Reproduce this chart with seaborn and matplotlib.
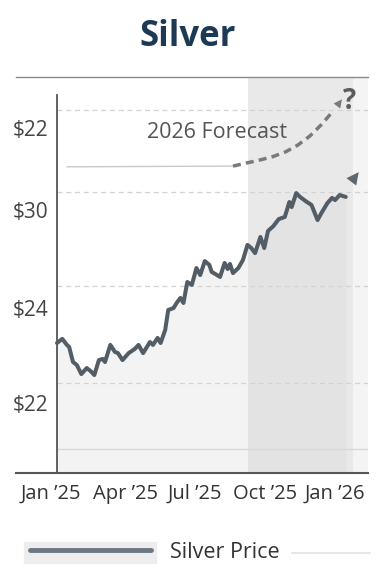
import pandas as pd
import numpy as np
import matplotlib
matplotlib.use("Agg")
import matplotlib.pyplot as plt
import matplotlib.dates as mdates
import matplotlib.transforms as mtransforms
from matplotlib.patches import Rectangle
from matplotlib.lines import Line2D
import seaborn as sns

# silver price (days after 1 Jan 2025, USD)
days = [0, 7, 13, 16, 21, 26, 32, 39, 44, 49, 55, 60, 63, 70, 76, 80, 86, 94,
        102, 107, 113, 122, 126, 132, 136, 142, 146, 153, 157, 162, 166, 171,
        177, 183, 188, 194, 200, 203, 210, 214, 220, 224, 227, 231, 238, 244,
        250, 255, 260, 267, 272, 277, 284, 291, 299, 305, 308, 314, 319, 328,
        334, 342, 347, 355, 361, 365, 371, 379]
prices = [24.49, 24.66, 24.41, 24.32, 23.70, 23.58, 23.20, 23.45, 23.33, 23.16,
          23.78, 23.83, 23.70, 24.41, 24.12, 24.07, 23.78, 24.07, 24.24, 24.41,
          24.07, 24.53, 24.41, 24.70, 24.49, 25.03, 25.86, 25.94, 26.15, 26.36,
          26.15, 27.02, 26.90, 27.60, 27.31, 27.89, 27.73, 27.44, 27.31, 27.23,
          27.81, 27.56, 27.77, 27.39, 27.60, 27.93, 28.56, 28.43, 28.22, 28.89,
          28.43, 29.14, 29.34, 29.63, 29.72, 30.34, 30.13, 30.71, 30.55, 30.34,
          30.22, 29.59, 29.88, 30.30, 30.51, 30.42, 30.63, 30.55]

# forecast path (dashed arrow)
fc_days = [231, 249, 266, 283, 300, 316, 332, 347, 362, 374]
fc_prices = [31.83, 31.96, 32.08, 32.22, 32.42, 32.70, 33.08, 33.55, 34.10, 34.60]

ytick_vals = [22, 25.95, 30, 33.4]
ytick_labels = ["$22", "$24", "$30", "$22"]
grid_vals = [22.83, 26.85, 30.76, 34.16]
xtick_dates = ["2025-01-01", "2025-04-01", "2025-07-01", "2025-10-01", "2026-01-01"]
xtick_labels = ["Jan \u201925", "Apr \u201925", "Jul \u201925", "Oct \u201925", "Jan \u201926"]

start = pd.Timestamp("2025-01-01")
def to_date(d):
    return start + pd.to_timedelta(d, unit="D")

df = pd.DataFrame({"date": [to_date(d) for d in days], "price": prices})

sns.set_theme(style="white")
plt.rcParams["font.family"] = ["Open Sans", "DejaVu Sans"]

fig = plt.figure(figsize=(3.76, 5.85), dpi=100)
ax = fig.add_axes([16 / 376, 112 / 585, 352 / 376, 396 / 585])
ax.set_facecolor("white")

# forecast zone shading
ax.axvspan(to_date(251), to_date(388), color="#e9e9e9", zorder=0, lw=0)
ax.axvspan(to_date(388), to_date(420), color="#f4f4f4", zorder=0, lw=0)

# gridlines
for g in grid_vals:
    ax.axhline(g, xmin=0.117, xmax=1, color="#d2d2d2", lw=0.9, ls=(0, (4, 3)), zorder=1)
ax.axhline(20.09, xmin=0.117, xmax=1, color="#d8d8d8", lw=1, zorder=1)

ax.fill_between(df["date"], df["price"], 18, color="#d8d8d8", alpha=0.3, lw=0, zorder=1)
sns.lineplot(data=df, x="date", y="price", ax=ax, color="#535d66", lw=2.9,
             label="Silver Price", legend=False, zorder=3)

# forecast annotation
ax.plot([to_date(13), to_date(231)], [31.80, 31.83], color="#c9c9c9", lw=1, zorder=2)
ax.plot([to_date(d) for d in fc_days[:-1]], fc_prices[:-1], color="#7a7a7a", lw=2.5,
        ls=(0, (2.3, 1.5)), zorder=2)
ax.annotate("", xy=(to_date(fc_days[-1]), fc_prices[-1]),
            xytext=(to_date(fc_days[-2]), fc_prices[-2]),
            arrowprops=dict(arrowstyle="-|>", color="#7a7a7a", lw=0, mutation_scale=15,
                            shrinkA=0, shrinkB=0))
ax.annotate("", xy=(to_date(396), 31.58), xytext=(to_date(381), 30.95),
            arrowprops=dict(arrowstyle="-|>", color="#5e6870", lw=0, mutation_scale=22,
                            shrinkA=0, shrinkB=0))
ax.text(to_date(210), 33.24, "2026 Forecast", fontsize=15.5, color="#555555",
        ha="center", va="center")
ax.text(to_date(384), 34.5, "?", fontsize=20, fontweight="bold", color="#5c5c5c",
        ha="center", va="center")

ax.set_xlim(to_date(-53.8), to_date(408.2))
ax.set_ylim(19.095, 35.527)

# spines first: set_position resets the tick label styling
ax.spines["right"].set_visible(False)
ax.spines["top"].set_color("#8a8a8a")
ax.spines["top"].set_linewidth(1)
ax.spines["bottom"].set_color("#555555")
ax.spines["bottom"].set_linewidth(1.5)
ax.spines["left"].set_position(("data", mdates.date2num(start)))
ax.spines["left"].set_bounds(19.095, 34.78)
ax.spines["left"].set_color("#555555")
ax.spines["left"].set_linewidth(1.3)

ax.set_xticks([pd.Timestamp(d) for d in xtick_dates])
ax.set_xticklabels(xtick_labels, fontsize=14.5, color="#333333")
ax.set_yticks(ytick_vals)
ax.set_yticklabels(ytick_labels, fontsize=15, color="#444444")
ax.tick_params(axis="x", length=0, pad=8)
ax.tick_params(axis="y", length=0, pad=6)
ax.set_xlabel("")
ax.set_ylabel("")
first = ax.get_xticklabels()[0]
first.set_transform(first.get_transform() + mtransforms.ScaledTranslation(-6 / 100, 0, fig.dpi_scale_trans))

fig.text(0.5, 1 - 37 / 585, "Silver", fontsize=25, fontweight="bold", color="#1d3a55",
         ha="center", va="center")

# legend
fig.patches.append(Rectangle((24 / 376, 22 / 585), 132 / 376, 21 / 585,
                             transform=fig.transFigure, color="#ededed", zorder=0))
fig.lines.append(Line2D([292 / 376, 370 / 376], [32 / 585, 32 / 585],
                        transform=fig.transFigure, color="#e3e6ea", lw=1.5))
handles, labels = ax.get_legend_handles_labels()
leg = fig.legend(handles, labels, loc="center left", bbox_to_anchor=(30 / 376, 33 / 585),
                 frameon=False, fontsize=15.5, handlelength=5.6, handletextpad=0.9,
                 borderpad=0, borderaxespad=0)
for t in leg.get_texts():
    t.set_color("#333333")
for h in leg.legend_handles:
    h.set_color("#6b7783")
    h.set_linewidth(3.5)

fig.savefig("out.png", dpi=100)
